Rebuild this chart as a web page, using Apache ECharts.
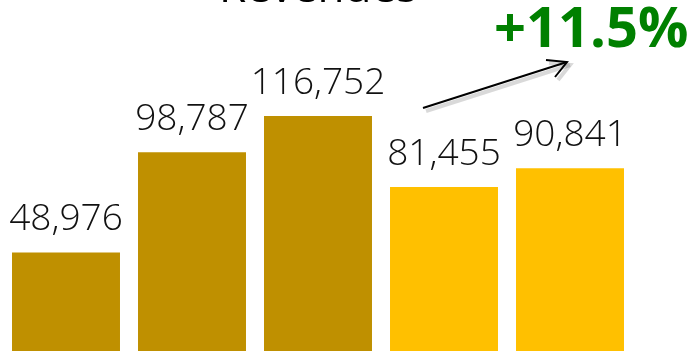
<!DOCTYPE html>
<html><head><meta charset="utf-8">
<script src="https://cdn.jsdelivr.net/npm/echarts@6/dist/echarts.min.js"></script>
<style>html,body{margin:0;padding:0;background:#fff}#c{width:693px;height:351px}</style>
</head><body><div id="c"></div>
<script>
const categories = ['Y1', 'Y2', 'Y3', 'Y4', 'Y5'];
const revenues = [48976, 98787, 116752, 81455, 90841];
const barColors = ['#BF9000', '#BF9000', '#BF9000', '#FFC000', '#FFC000'];
const titleText = 'Revenues';
const growthText = '+11.5%';

const chart = echarts.init(document.getElementById('c'));
chart.setOption({
  animation: false,
  grid: { left: 3, right: 60, top: 0, bottom: 0 },
  xAxis: { type: 'category', data: categories, show: false },
  yAxis: { type: 'value', min: 0, max: 174400, show: false },
  series: [{
    type: 'bar',
    barCategoryGap: '14.3%',
    data: revenues.map((v, i) => ({ value: v, itemStyle: { color: barColors[i] } })),
    label: {
      show: true, position: 'top', distance: 14,
      fontFamily: 'Open Sans', fontWeight: 300, fontSize: 37, color: '#111',
      formatter: p => p.value.toLocaleString('en-US')
    }
  }],
  graphic: [
    { type: 'text', left: 219, top: -33, style: { text: titleText, font: '44px "Open Sans"', fill: '#000' } },
    { type: 'text', left: 494, top: 3, style: { text: growthText, font: 'bold 56px "Open Sans"', fill: '#008000' } },
    { type: 'group', children: [
      { type: 'line', shape: { x1: 426, y1: 111, x2: 570, y2: 65 }, style: { stroke: 'rgba(0,0,0,0.15)', lineWidth: 4 } },
      { type: 'polyline', shape: { points: [[549, 63], [570, 65], [558, 80]] }, style: { stroke: 'rgba(0,0,0,0.15)', lineWidth: 4, fill: null } },
      { type: 'line', shape: { x1: 423, y1: 108, x2: 567, y2: 62 }, style: { stroke: '#000', lineWidth: 2 } },
      { type: 'polyline', shape: { points: [[546, 60], [567, 62], [555, 77]] }, style: { stroke: '#000', lineWidth: 2, fill: null } }
    ]}
  ]
});
</script></body></html>
